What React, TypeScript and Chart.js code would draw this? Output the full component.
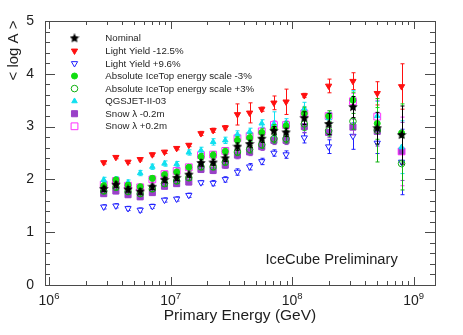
import React, { useEffect, useRef } from 'react';
import { Chart, registerables } from 'chart.js';
import { drawPoint } from 'chart.js/helpers';

Chart.register(...registerables);

// log10 of primary energy (GeV) bin centres
const logE = [6.45, 6.55, 6.65, 6.75, 6.85, 6.95, 7.05, 7.15, 7.25, 7.35, 7.45, 7.55, 7.65, 7.75, 7.85, 7.95, 8.1, 8.3, 8.5, 8.7, 8.9];

const nominal = [1.82, 1.9, 1.81, 1.77, 1.86, 1.99, 2.03, 2.09, 2.31, 2.32, 2.4, 2.62, 2.67, 2.77, 2.92, 2.89, 3.16, 3.05, 3.37, 2.97, 2.84];
const lyMinus = [2.32, 2.42, 2.33, 2.38, 2.47, 2.52, 2.59, 2.65, 2.87, 2.93, 2.98, 3.23, 3.26, 3.33, 3.45, 3.47, 3.59, 3.77, 3.86, 3.63, 3.76];
const lyPlus = [1.48, 1.5, 1.45, 1.42, 1.49, 1.61, 1.63, 1.7, 1.94, 1.93, 2.0, 2.14, 2.24, 2.34, 2.5, 2.47, 2.79, 2.62, 2.82, 2.69, 2.33];
const escMinus = [1.88, 1.99, 1.89, 1.86, 2.02, 2.09, 2.14, 2.23, 2.43, 2.46, 2.53, 2.74, 2.79, 2.89, 2.96, 3.01, 3.25, 3.2, 3.5, 3.06, 2.88];
const escPlus = [1.78, 1.85, 1.77, 1.73, 1.82, 1.92, 1.97, 2.03, 2.24, 2.24, 2.33, 2.52, 2.57, 2.66, 2.77, 2.77, 3.05, 2.92, 3.1, 2.93, 2.3];
const qgsjet = [1.99, 2.0, 1.94, 2.12, 2.24, 2.3, 2.29, 2.51, 2.55, 2.71, 2.74, 2.85, 2.9, 3.06, 3.05, 3.07, 3.34, 3.16, 3.53, 3.2, 2.61];
const snowMinus = [1.73, 1.78, 1.71, 1.67, 1.75, 1.87, 1.92, 1.95, 2.19, 2.17, 2.27, 2.46, 2.52, 2.62, 2.74, 2.74, 3.0, 2.89, 2.99, 2.91, 2.53];
const snowPlus = [1.9, 1.97, 1.88, 1.85, 2.0, 2.1, 2.16, 2.23, 2.46, 2.47, 2.54, 2.78, 2.82, 2.91, 3.03, 3.03, 3.25, 3.2, 3.48, 3.19, 2.53];

// symmetric errors
const errNominal = [0.05, 0.05, 0.05, 0.05, 0.05, 0.05, 0.05, 0.05, 0.06, 0.06, 0.06, 0.07, 0.07, 0.07, 0.08, 0.08, 0.12, 0.2, 0.2, 0.3, 0.55];
const errLyMinus = [0.03, 0.03, 0.03, 0.03, 0.03, 0.03, 0.03, 0.03, 0.04, 0.04, 0.04, 0.2, 0.19, 0.04, 0.13, 0.24, 0.04, 0.13, 0.16, 0.22, 0.43];
const errLyPlus = [0.04, 0.04, 0.04, 0.04, 0.04, 0.04, 0.04, 0.04, 0.04, 0.05, 0.05, 0.06, 0.06, 0.06, 0.06, 0.07, 0.1, 0.13, 0.25, 0.2, 0.62];
const errEscMinus = [0.05, 0.05, 0.05, 0.05, 0.05, 0.05, 0.05, 0.05, 0.06, 0.06, 0.06, 0.07, 0.07, 0.07, 0.08, 0.08, 0.12, 0.1, 0.15, 0.3, 0.55];
const errEscPlus = [0.05, 0.05, 0.05, 0.05, 0.05, 0.05, 0.05, 0.05, 0.06, 0.06, 0.06, 0.07, 0.07, 0.07, 0.08, 0.08, 0.12, 0.1, 0.15, 0.6, 0.5];
const errQgsjet = [0.05, 0.05, 0.05, 0.05, 0.05, 0.05, 0.05, 0.05, 0.06, 0.06, 0.06, 0.07, 0.07, 0.07, 0.23, 0.08, 0.12, 0.1, 0.15, 0.28, 0.5];
const errSnowMinus = [0.05, 0.05, 0.05, 0.05, 0.05, 0.05, 0.05, 0.05, 0.06, 0.06, 0.06, 0.07, 0.07, 0.07, 0.08, 0.08, 0.12, 0.1, 0.15, 0.28, 0.55];
const errSnowPlus = [0.05, 0.05, 0.05, 0.05, 0.05, 0.05, 0.05, 0.05, 0.06, 0.06, 0.06, 0.07, 0.07, 0.07, 0.08, 0.08, 0.12, 0.1, 0.15, 0.3, 0.65];

const labels = [
  'Nominal',
  'Light Yield -12.5%',
  'Light Yield +9.6%',
  'Absolute IceTop energy scale -3%',
  'Absolute IceTop energy scale +3%',
  'QGSJET-II-03',
  'Snow \u03bb -0.2m',
  'Snow \u03bb +0.2m',
];

const xMajorExponents = [6, 7, 8, 9];
const yMajorTicks = [0, 1, 2, 3, 4, 5];

const FONT = '"Liberation Sans", Arial, Helvetica, sans-serif';
const FRAME = '#4a4a4a';
const TEXT = '#1e1e1e';

function makeStar(color: string, size: number) {
  const c = document.createElement('canvas');
  c.width = size;
  c.height = size;
  const g = c.getContext('2d')!;
  const cx = size / 2, cy = size / 2;
  const ro = size / 2, ri = size / 4.2;
  g.beginPath();
  for (let i = 0; i < 10; i++) {
    const r = i % 2 === 0 ? ro : ri;
    const a = -Math.PI / 2 + (i * Math.PI) / 5;
    const px = cx + r * Math.cos(a), py = cy + r * Math.sin(a);
    if (i === 0) g.moveTo(px, py); else g.lineTo(px, py);
  }
  g.closePath();
  g.fillStyle = color;
  g.fill();
  return c;
}

export default function App() {
  const ref = useRef<HTMLCanvasElement | null>(null);

  useEffect(() => {
    document.body.style.margin = '0';
    const canvas = ref.current!;
    const star = makeStar('#000000', 10);

    const series = [
      { values: nominal, err: errNominal, color: '#000000', fill: '#000000', style: star as any, radius: 5, rotation: 0 },
      { values: lyMinus, err: errLyMinus, color: '#ff1010', fill: '#ff1010', style: 'triangle', radius: 3.6, rotation: 180 },
      { values: lyPlus, err: errLyPlus, color: '#2020ff', fill: '#ffffff', style: 'triangle', radius: 3.6, rotation: 180 },
      { values: escMinus, err: errEscMinus, color: '#10dd10', fill: '#10dd10', style: 'circle', radius: 3, rotation: 0 },
      { values: escPlus, err: errEscPlus, color: '#10b010', fill: 'rgba(255,255,255,0)', style: 'circle', radius: 3.3, rotation: 0 },
      { values: qgsjet, err: errQgsjet, color: '#10e0f0', fill: '#10e0f0', style: 'triangle', radius: 3.2, rotation: 0 },
      { values: snowMinus, err: errSnowMinus, color: '#9a40c8', fill: '#9a40c8', style: 'rect', radius: 4.3, rotation: 0 },
      { values: snowPlus, err: errSnowPlus, color: '#ff30ff', fill: 'rgba(255,255,255,0)', style: 'rect', radius: 4.8, rotation: 0 },
    ];
    // drawing order: Chart.js draws the last dataset first; nominal (index 0) ends on top
    const order = [0, 3, 4, 5, 7, 6, 2, 1];

    const datasets = order.map((si) => {
      const s = series[si];
      return {
        label: labels[si],
        data: logE.map((l, i) => ({ x: Math.pow(10, l), y: s.values[i] })),
        pointStyle: s.style,
        pointRadius: s.radius,
        pointRotation: s.rotation,
        pointBackgroundColor: s.fill,
        pointBorderColor: s.color,
        pointBorderWidth: 1,
        showLine: false,
        errColor: s.color,
        errs: s.err,
      } as any;
    });

    const rootPlugin = {
      id: 'rootStyle',
      beforeDatasetDraw(chart: any, args: any) {
        const ds = chart.data.datasets[args.index];
        const ys = chart.scales.y;
        const ctx = chart.ctx;
        ctx.save();
        ctx.strokeStyle = ds.errColor;
        ctx.lineWidth = 1;
        ctx.beginPath();
        args.meta.data.forEach((pt: any, i: number) => {
          const v = ds.data[i].y;
          const e = ds.errs[i];
          const x = Math.round(pt.x) + 0.5;
          const yt = ys.getPixelForValue(v + e);
          const yb = ys.getPixelForValue(v - e);
          ctx.moveTo(x, yt);
          ctx.lineTo(x, yb);
          ctx.moveTo(x - 2, yt);
          ctx.lineTo(x + 2, yt);
          ctx.moveTo(x - 2, yb);
          ctx.lineTo(x + 2, yb);
        });
        ctx.stroke();
        ctx.restore();
      },
      afterDraw(chart: any) {
        const ctx = chart.ctx;
        const { left, right, top, bottom } = chart.chartArea;
        const xs = chart.scales.x;
        const ys = chart.scales.y;
        ctx.save();
        // frame
        ctx.strokeStyle = FRAME;
        ctx.lineWidth = 1;
        ctx.strokeRect(Math.round(left) + 0.5, Math.round(top) + 0.5, Math.round(right - left), Math.round(bottom - top));
        ctx.beginPath();
        // x ticks (bottom and top, inside)
        for (const d of [5, 6, 7, 8, 9]) {
          for (let k = 1; k <= 9; k++) {
            const v = k * Math.pow(10, d);
            if (v < xs.min || v > xs.max) continue;
            const px = Math.round(xs.getPixelForValue(v)) + 0.5;
            const len = k === 1 ? 8 : 4;
            ctx.moveTo(px, bottom);
            ctx.lineTo(px, bottom - len);
            ctx.moveTo(px, top);
            ctx.lineTo(px, top + len);
          }
        }
        // y ticks (left and right, inside)
        for (let i = 0; i <= 25; i++) {
          const v = i * 0.2;
          const py = Math.round(ys.getPixelForValue(v)) + 0.5;
          const len = i % 5 === 0 ? 10 : 5;
          ctx.moveTo(left, py);
          ctx.lineTo(left + len, py);
          ctx.moveTo(right, py);
          ctx.lineTo(right - len, py);
        }
        ctx.stroke();

        // x tick labels 10^n
        ctx.fillStyle = TEXT;
        ctx.textBaseline = 'alphabetic';
        for (const n of xMajorExponents) {
          const px = xs.getPixelForValue(Math.pow(10, n));
          ctx.font = `14px ${FONT}`;
          const w1 = ctx.measureText('10').width;
          ctx.font = `9.5px ${FONT}`;
          const w2 = ctx.measureText(String(n)).width;
          const x0 = px - (w1 + w2) / 2;
          ctx.font = `14px ${FONT}`;
          ctx.textAlign = 'left';
          ctx.fillText('10', x0, 305);
          ctx.font = `9.5px ${FONT}`;
          ctx.fillText(String(n), x0 + w1, 298.5);
        }

        // axis titles
        ctx.font = `15.5px ${FONT}`;
        ctx.textAlign = 'center';
        ctx.fillText('Primary Energy (GeV)', (left + right) / 2, 319.5);
        ctx.save();
        ctx.translate(18, top - 0.5);
        ctx.rotate(-Math.PI / 2);
        ctx.font = `15px ${FONT}`;
        ctx.textAlign = 'right';
        ctx.fillText('< log A >', 0, 0);
        ctx.restore();

        // IceCube text
        ctx.font = `14.7px ${FONT}`;
        ctx.textAlign = 'left';
        ctx.fillText('IceCube Preliminary', 265.5, 263.5);

        // legend
        const rowY0 = 38.3;
        const rowStep = 12.57;
        series.forEach((s, i) => {
          const y = rowY0 + i * rowStep;
          ctx.fillStyle = s.fill;
          ctx.strokeStyle = s.color;
          ctx.lineWidth = 1;
          drawPoint(ctx, { pointStyle: s.style, radius: s.radius, rotation: s.rotation, borderWidth: 1 } as any, 74.5, y);
          ctx.fillStyle = TEXT;
          ctx.font = `9.7px ${FONT}`;
          ctx.textAlign = 'left';
          ctx.textBaseline = 'middle';
          ctx.fillText(labels[i], 105.3, y + 0.5);
        });
        ctx.restore();
      },
    };

    const chart = new Chart(canvas, {
      type: 'scatter',
      data: { datasets },
      options: {
        animation: false,
        responsive: false,
        maintainAspectRatio: false,
        events: [],
        layout: { padding: { top: 21, right: 28, left: 0, bottom: 0 } },
        plugins: { legend: { display: false }, tooltip: { enabled: false } },
        scales: {
          x: {
            type: 'logarithmic',
            min: Math.pow(10, 5.967),
            max: Math.pow(10, 9.175),
            grid: { display: false },
            border: { display: false },
            ticks: { display: false },
            afterFit: (s: any) => { s.height = 50; },
          },
          y: {
            type: 'linear',
            min: 0,
            max: 5,
            grid: { display: false },
            border: { display: false },
            afterBuildTicks: (s: any) => { s.ticks = yMajorTicks.map((v) => ({ value: v })); },
            ticks: {
              color: TEXT,
              font: { family: FONT, size: 14 },
              padding: 3,
              callback: (v: any) => String(v),
            },
            afterFit: (s: any) => { s.width = 45; },
          },
        },
      },
      plugins: [rootPlugin],
    } as any);

    return () => chart.destroy();
  }, []);

  return (
    <div style={{ width: 463, height: 335 }}>
      <canvas ref={ref} width={463} height={335} style={{ display: 'block', width: 463, height: 335 }} />
    </div>
  );
}
